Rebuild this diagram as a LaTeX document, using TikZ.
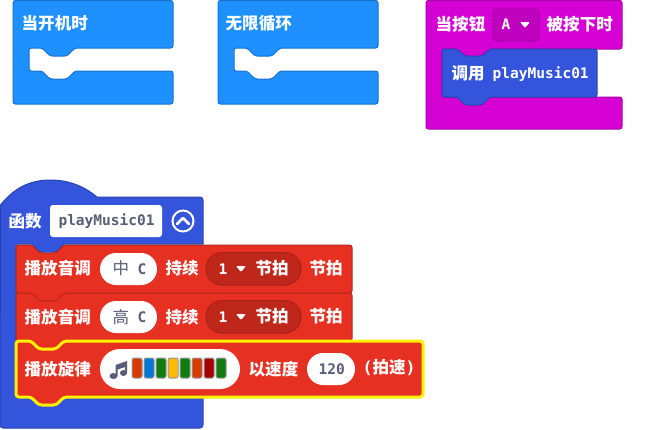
\documentclass[tikz,border=0pt]{standalone}
\usepackage{fontspec}
\newfontfamily\cjk{Noto Sans CJK SC}
\newfontfamily\mono{DejaVu Sans Mono}

\definecolor{loopblue}{HTML}{1E90FF}
\definecolor{loopedge}{HTML}{1873CC}
\definecolor{inputpink}{HTML}{D400D4}
\definecolor{inputedge}{HTML}{AA00AA}
\definecolor{funcblue}{HTML}{3455DB}
\definecolor{funcedge}{HTML}{2A44AF}
\definecolor{musicred}{HTML}{E63022}
\definecolor{musicedge}{HTML}{B8261B}
\definecolor{musicdark}{HTML}{C0271B}
\definecolor{selectyellow}{HTML}{FFF200}
\definecolor{fieldtext}{HTML}{575E75}

\tikzset{
	label cn/.style={right,inner sep=0pt,xshift=-0.6pt,text=white,font=\cjk\bfseries\fontsize{12.4}{14}\selectfont},
	label mono/.style={right,inner sep=0pt,text=white,font=\mono\bfseries\fontsize{10.9}{13}\selectfont},
	field cn/.style={right,inner sep=0pt,text=fieldtext,font=\cjk\fontsize{12.4}{14}\selectfont},
	field mono/.style={label mono,text=fieldtext},
}

\begin{document}
\begin{tikzpicture}[x=0.75pt,y=-0.75pt,line width=0.75pt]
	
	\useasboundingbox (0,0) rectangle (649,429);
	
	% on start
	\filldraw[fill=loopblue,draw=loopedge,rounded corners=1.8] (13,0.5) -- (173,0.5) -- (173,48) -- (75,48) -- (67,56) -- (50,56) -- (42,48) -- (29,48) -- (29,71) -- (42,71) -- (50,79) -- (67,79) -- (75,71) -- (173,71) -- (173,104) -- (13,104) -- cycle;
	\node[label cn] (onstart) at (22,23) {当开机时};
	
	% forever
	\filldraw[fill=loopblue,draw=loopedge,rounded corners=1.8] (218,0.5) -- (378,0.5) -- (378,48) -- (280,48) -- (272,56) -- (255,56) -- (247,48) -- (234,48) -- (234,71) -- (247,71) -- (255,79) -- (272,79) -- (280,71) -- (378,71) -- (378,104) -- (218,104) -- cycle;
	\node[label cn] (forever) at (226,23) {无限循环};
	
	% button pressed
	\filldraw[fill=inputpink,draw=inputedge,rounded corners=1.8] (426,0.5) -- (622,0.5) -- (622,49) -- (490,49) -- (482,57) -- (465,57) -- (457,49) -- (442,49) -- (442,97) -- (622,97) -- (622,129) -- (426,129) -- cycle;
	\node[label cn] (whenbtn) at (436,24) {当按钮};
	\filldraw[fill=inputpink!90!black,draw=inputedge,rounded corners=3] (493,9) rectangle (539,41);
	\node[label mono] (btnname) at (501,24.5) {A};
	\fill[white,rounded corners=0.8] (520,22) -- (530,22) -- (525,28) -- cycle;
	\node[label cn] (pressed) at (547,24) {被按下时};
	
	% call
	\filldraw[fill=funcblue,draw=funcedge,rounded corners=1.8] (442,49) -- (457,49) -- (465,56) -- (482,56) -- (490,49) -- (597,49) -- (597,97) -- (490,97) -- (482,105) -- (465,105) -- (457,97) -- (442,97) -- cycle;
	\node[label cn] (callword) at (452,73) {调用};
	\node[label mono] (callname) at (492,74) {playMusic01};
	
	% function
	\filldraw[fill=funcblue,draw=funcedge] (203,200) -- (203,244) -- (64,244) -- (56,252) -- (40,252) -- (32,244) -- (16,244) -- (16,398) -- (203,398) -- (203,425) arc (0:90:3) -- (3,428) arc (90:180:3) -- (0.5,205) .. controls (14,188) and (30,180) .. (50,180) .. controls (70,180) and (85,187) .. (97,197) -- (200,197) arc (-90:0:3) -- cycle;
	\node[label cn] (funcword) at (9,221) {函数};
	\fill[white,rounded corners=2.2] (50,205) rectangle (162,237);
	\node[field mono] (funcname) at (58,221.5) {playMusic01};
	\draw[white,line width=1.5pt] (183,221) circle (10.5);
	\draw[white,line width=2pt,line cap=round,line join=round] (177,224) -- (183,218) -- (189,224);
	
	% tone 2
	\filldraw[fill=musicred,draw=musicedge,rounded corners=1.8] (16,293) -- (32,293) -- (40,301) -- (56,301) -- (64,293) -- (352,293) -- (352,341) -- (64,341) -- (56,349) -- (39,349) -- (31,341) -- (16,341) -- cycle;
	\node[label cn] (tonetwo) at (25,317) {播放音调};
	\fill[white,rounded corners=12] (100,301) rectangle (157,333);
	\node[field cn] (hightext) at (112,317) {高};
	\node[field mono] (hignote) at (137,317) {C};
	\node[label cn] (lasttwo) at (166,317) {持续};
	\filldraw[fill=musicdark,draw=musicedge!90!black,rounded corners=12] (206,300.5) rectangle (301,333);
	\node[label mono] (beattwo) at (218,317) {1};
	\fill[white,rounded corners=0.8] (236,314) -- (246,314) -- (241,320) -- cycle;
	\node[label cn] (fractwo) at (256,316) {节拍};
	\node[label cn] (unittwo) at (310,316) {节拍};
	
	% tone 1
	\filldraw[fill=musicred,draw=musicedge,rounded corners=1.8] (16,245) -- (32,245) -- (40,253) -- (56,253) -- (64,245) -- (352,245) -- (352,293) -- (64,293) -- (56,301) -- (40,301) -- (32,293) -- (16,293) -- cycle;
	\node[label cn] (toneone) at (25,268) {播放音调};
	\fill[white,rounded corners=12] (100,253) rectangle (157,285);
	\node[field cn] (midtext) at (112,268) {中};
	\node[field mono] (midnote) at (137,269) {C};
	\node[label cn] (lastone) at (166,268) {持续};
	\filldraw[fill=musicdark,draw=musicedge!90!black,rounded corners=12] (206,252.5) rectangle (301,285);
	\node[label mono] (beatone) at (218,269) {1};
	\fill[white,rounded corners=0.8] (236,266) -- (246,266) -- (241,272) -- cycle;
	\node[label cn] (fracone) at (256,268) {节拍};
	\node[label cn] (unitone) at (310,268) {节拍};
	
	% melody
	\filldraw[fill=musicred,draw=selectyellow,line width=2.25pt,rounded corners=2.2] (16,341) -- (31,341) -- (39,349) -- (56,349) -- (64,341) -- (423,341) -- (423,397) -- (64,397) -- (56,405) -- (39,405) -- (31,397) -- (16,397) -- cycle;
	\node[label cn] (melody) at (25,369) {播放旋律};
	\fill[white,rounded corners=15] (100,349) rectangle (240,389);
	
	% note
	\fill[fieldtext] (115.5,365) -- (127,361) -- (127,373) -- (125,373) -- (125,367) -- (117.5,369.5) -- (117.5,376) -- (115.5,376) -- cycle;
	\fill[fieldtext] (113.5,376) ellipse (4 and 3);
	\fill[fieldtext] (123.5,373) ellipse (3.5 and 3);
	
	% bars
	\filldraw[fill={rgb,255:red,216;green,59;blue,1},draw=black!40,rounded corners=1.5] (132,358) rectangle (142,378);
	\filldraw[fill={rgb,255:red,0;green,120;blue,215},draw=black!40,rounded corners=1.5] (144,358) rectangle (154,378);
	\filldraw[fill={rgb,255:red,16;green,124;blue,16},draw=black!40,rounded corners=1.5] (156,358) rectangle (166,378);
	\filldraw[fill={rgb,255:red,255;green,185;blue,0},draw=black!40,rounded corners=1.5] (168,358) rectangle (178,378);
	\filldraw[fill={rgb,255:red,16;green,124;blue,16},draw=black!40,rounded corners=1.5] (180,358) rectangle (190,378);
	\filldraw[fill={rgb,255:red,216;green,59;blue,1},draw=black!40,rounded corners=1.5] (192,358) rectangle (202,378);
	\filldraw[fill={rgb,255:red,168;green,0;blue,0},draw=black!40,rounded corners=1.5] (204,358) rectangle (214,378);
	\filldraw[fill={rgb,255:red,16;green,124;blue,16},draw=black!40,rounded corners=1.5] (216,358) rectangle (226,378);
	
	\node[label cn] (tempoword) at (249,369) {以速度};
	\fill[white,rounded corners=12] (307,353) rectangle (355,385);
	\node[field mono] (tempo) at (318,369.5) {120};
	\node[label cn] (tempounit) at (363,368) {{\mono(}拍速{\mono)}};
	
\end{tikzpicture}
\end{document}
